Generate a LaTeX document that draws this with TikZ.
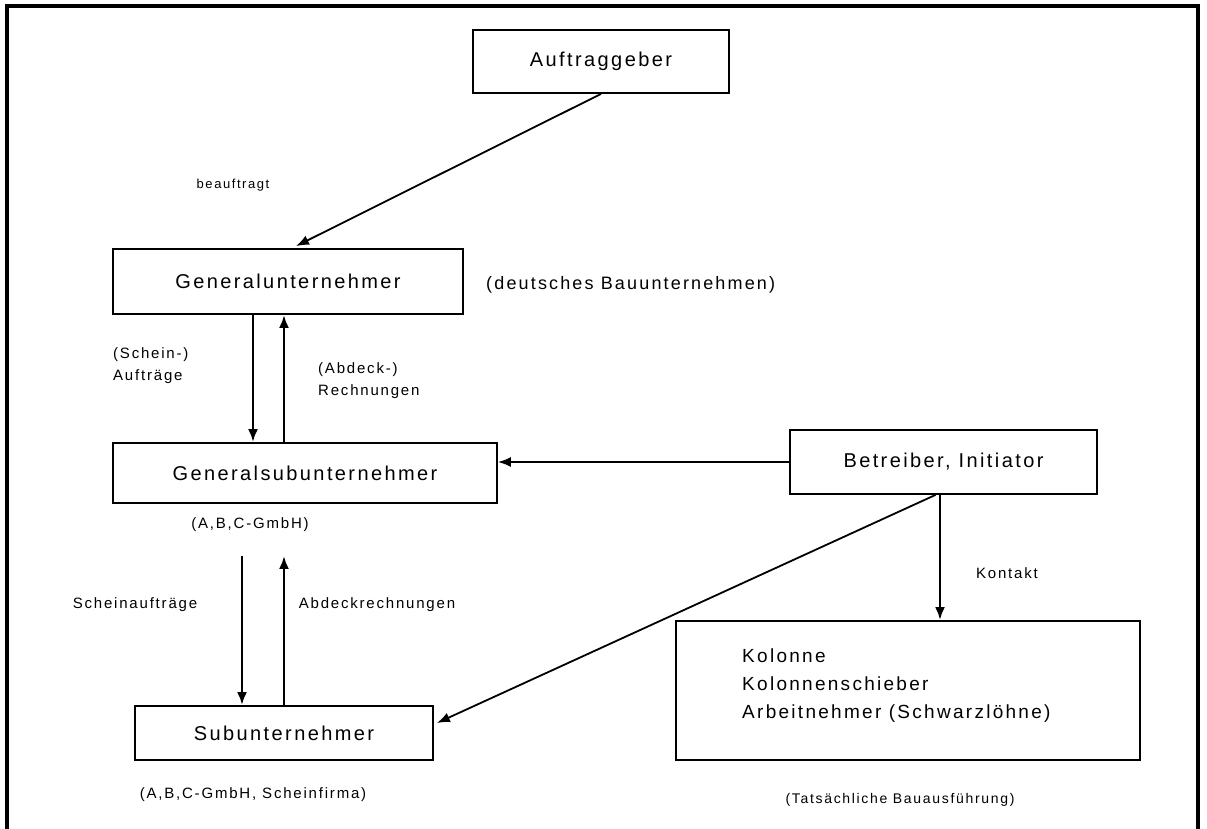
\documentclass[tikz,border=0pt]{standalone}
\usepackage{fontspec}
\setmainfont{Liberation Sans}[LetterSpace=12]
\usetikzlibrary{arrows.meta,calc}
\tikzset{
  box/.style={draw, line width=1.8pt, inner sep=0pt, font=\fontsize{20}{24}\selectfont},
  lbl/.style={inner sep=0pt, font=\fontsize{15}{22}\selectfont},
  arr/.style={line width=2.6pt, -{Latex[length=13pt,width=10pt]}},
  darr/.style={line width=1.8pt, -{Latex[length=13pt,width=10pt]}}
}
\begin{document}
\begin{tikzpicture}[x=1pt,y=-1pt]
\useasboundingbox (0,0) rectangle (1207,828);
\clip (0,0) rectangle (1207,828);
% outer frame
\draw[line width=4.5pt] (7,900) -- (7,6) -- (1198,6) -- (1198,900);
% boxes
\node[box, minimum width=256pt, minimum height=63pt] (auf) at (601,61.5) {Auftraggeber};
\node[box, minimum width=350pt, minimum height=65pt] (gu) at (288,281.5) {Generalunternehmer};
\node[box, minimum width=384pt, minimum height=60pt] (gsu) at (305,473) {Generalsubunternehmer};
\node[box, minimum width=307pt, minimum height=64pt] (bet) at (943.5,462) {Betreiber, Initiator};
\node[box, minimum width=298pt, minimum height=54pt] (sub) at (284,733) {Subunternehmer};
\node[box, minimum width=464pt, minimum height=139pt] (kol) at (908,690.5) {};
\node[anchor=west, inner sep=0pt, align=left, font=\fontsize{19}{28}\selectfont] (koltxt) at (742,685.5)
  {Kolonne\\Kolonnenschieber\\Arbeitnehmer (Schwarzlöhne)};
% labels
\node[lbl, font=\fontsize{13}{16}\selectfont] (lbeauf) at (233,185) {beauftragt};
\node[lbl, anchor=west, font=\fontsize{18}{22}\selectfont] (ldeut) at (486,285) {(deutsches Bauunternehmen)};
\node[lbl, anchor=west, align=left] (lschein) at (113,366) {(Schein-)\\Aufträge};
\node[lbl, anchor=west, align=left] (labdeck) at (318,381) {(Abdeck-)\\Rechnungen};
\node[lbl] (labc) at (250,525) {(A,B,C-GmbH)};
\node[lbl] (lscheinauf) at (135,605) {Scheinaufträge};
\node[lbl] (labdeckr) at (377,605) {Abdeckrechnungen};
\node[lbl] (labcs) at (253,795) {(A,B,C-GmbH, Scheinfirma)};
\node[lbl] (lkontakt) at (1007,573) {Kontakt};
\node[lbl, font=\fontsize{14}{18}\selectfont] (ltat) at (900,800) {(Tatsächliche Bauausführung)};
% connectors
\draw[darr] (auf.south) -- ([xshift=8pt,yshift=2pt]gu.north);
\draw[arr] ([xshift=-35pt]gu.south) -- ([xshift=-35pt]gu.south |- gsu.north);
\draw[arr] ([xshift=-4pt]gu.south |- gsu.north) -- ([xshift=-4pt]gu.south);
\coordinate (d1) at ([xshift=-63pt,yshift=-52pt]gsu.south);
\coordinate (u1) at ([xshift=-21pt,yshift=-52pt]gsu.south);
\draw[arr] (d1) -- (d1 |- sub.north);
\draw[arr] (u1 |- sub.north) -- (u1);
\draw[darr] (bet.west) -- (bet.west -| gsu.east);
\draw[darr] ([xshift=-8pt]bet.south) -- ([xshift=3pt,yshift=10pt]sub.east);
\draw[arr] ([xshift=-3.5pt]bet.south) -- ([xshift=-3.5pt]bet.south |- kol.north);
\end{tikzpicture}
\end{document}
